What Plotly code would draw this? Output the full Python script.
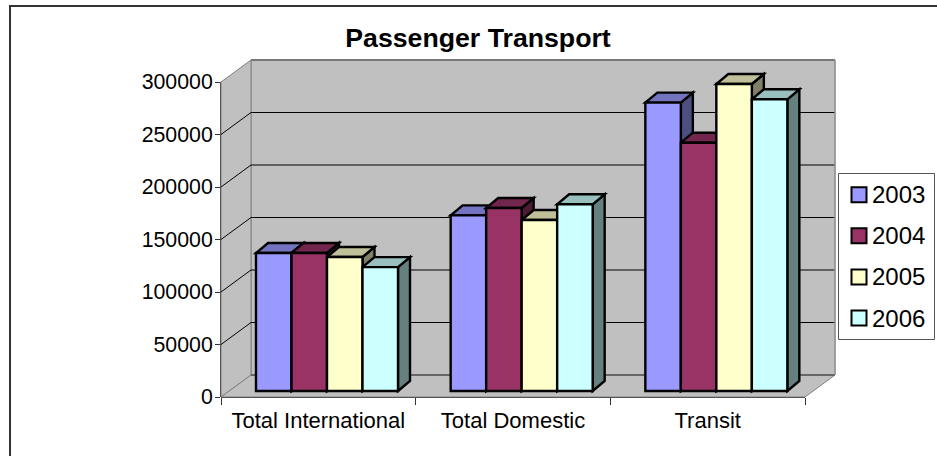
import plotly.graph_objects as go

# Passenger counts per category and year
categories = ["Total International", "Total Domestic", "Transit"]
years = ["2003", "2004", "2005", "2006"]
values_2003 = [131400, 167300, 274600]
values_2004 = [131500, 174300, 236500]
values_2005 = [127600, 162900, 292400]
values_2006 = [118000, 177800, 277800]
y_ticks = [0, 50000, 100000, 150000, 200000, 250000, 300000]

series = [values_2003, values_2004, values_2005, values_2006]
front_colors = ["#9999FF", "#993366", "#FFFFCC", "#CCFFFF"]
top_colors = ["#7373BF", "#73264D", "#BFBF99", "#99BFBF"]
side_colors = ["#4D4D80", "#4D1A33", "#808066", "#668080"]

WIDTH, HEIGHT = 937, 456
PLOT_L, PLOT_B = 221, 397
WALL_R = 835
UNITS_PER_PX = 300000 / 315
CAT_PX = 584 / 3

# Oblique projection: wall depth and bar depth, expressed in axis units
WALL_DX, WALL_DY = 30 / CAT_PX, 22 * UNITS_PER_PX
BAR_DX, BAR_DY = 12 / CAT_PX, 10 * UNITS_PER_PX
BAR_WIDTH = 35.5 / CAT_PX
BAR_SHIFT = 8.67 / CAT_PX
BAR_BASE = 6 * UNITS_PER_PX

# The plot area runs to the page's top and right edges so nothing gets clipped
x_lo = -0.5
x_hi = x_lo + (WIDTH - PLOT_L) / CAT_PX
x_wall = x_lo + (WALL_R - PLOT_L) / CAT_PX
x_front_end = x_lo + 3
y_hi = PLOT_B * UNITS_PER_PX
y_wall_top = 300000 + WALL_DY
x_positions = list(range(len(categories)))

WALL = "#C0C0C0"
EDGE = "#808080"
AXIS = "#555555"


def poly(points, fill, line="#000000", width=2.4):
    path = "M" + " L".join(f"{x},{y}" for x, y in points) + " Z"
    return dict(type="path", path=path, xref="x", yref="y", layer="below",
                fillcolor=fill, line=dict(color=line, width=width))


def seg(x0, y0, x1, y1, color, width=1, xref="x", yref="y"):
    return dict(type="line", x0=x0, y0=y0, x1=x1, y1=y1, xref=xref, yref=yref,
                layer="below", line=dict(color=color, width=width))


shapes = []
# Back wall, side wall and floor
shapes.append(poly([(x_lo + WALL_DX, WALL_DY), (x_wall, WALL_DY), (x_wall, y_wall_top), (x_lo + WALL_DX, y_wall_top)], WALL, EDGE, 1))
shapes.append(poly([(x_lo, 0), (x_lo + WALL_DX, WALL_DY), (x_lo + WALL_DX, y_wall_top), (x_lo, 300000)], WALL, EDGE, 1))
shapes.append(poly([(x_lo, 0), (x_front_end, 0), (x_wall, WALL_DY), (x_lo + WALL_DX, WALL_DY)], WALL, EDGE, 1))

# Gridlines wrap around the side wall and the back wall
for t in y_ticks[1:-1]:
    shapes.append(seg(x_lo, t, x_lo + WALL_DX, t + WALL_DY, "#000000"))
    shapes.append(seg(x_lo + WALL_DX, t + WALL_DY, x_wall, t + WALL_DY, "#000000"))
shapes.append(seg(x_lo + WALL_DX, WALL_DY, x_wall, WALL_DY, "#666666", 2))
shapes.append(seg(x_lo + WALL_DX, y_wall_top, x_wall, y_wall_top, "#777777", 2))
shapes.append(seg(x_wall, WALL_DY, x_wall, y_wall_top, "#999999", 1.5))

# Frame edges lying on the plot boundary
shapes.append(seg(0, 0, 0, 300000 / y_hi, AXIS, 2, "x domain", "y domain"))
shapes.append(seg(0, 0, (x_front_end - x_lo) / (x_hi - x_lo), 0, AXIS, 2, "x domain", "y domain"))

# Tops and right sides of the columns; the fronts are real bars drawn above them
for j, vals in enumerate(series):
    offset = (j - 2) * BAR_WIDTH + BAR_SHIFT
    for xc, v in zip(x_positions, vals):
        x0 = xc + offset
        x1 = x0 + BAR_WIDTH
        top = BAR_BASE + v
        shapes.append(poly([(x1, BAR_BASE), (x1 + BAR_DX, BAR_BASE + BAR_DY), (x1 + BAR_DX, top + BAR_DY), (x1, top)], side_colors[j]))
        shapes.append(poly([(x0, top), (x1, top), (x1 + BAR_DX, top + BAR_DY), (x0 + BAR_DX, top + BAR_DY)], top_colors[j]))

# Page-pixel helpers for the frame and the key
px = lambda v: (v - PLOT_L) / (WIDTH - PLOT_L)
py = lambda v: (PLOT_B - v) / PLOT_B

# Chart frame: left and top edges
shapes.append(dict(type="path", xref="paper", yref="paper", layer="above",
                   path=f"M{px(10)},{py(470)} L{px(10)},{py(6)} L{px(950)},{py(6)}",
                   line=dict(color="#333333", width=2)))

# Key box with one swatch and label per year
shapes.append(dict(type="rect", xref="paper", yref="paper", layer="above",
                   x0=px(838.5), x1=px(934.5), y0=py(173.5), y1=py(339.5),
                   fillcolor="#FFFFFF", line=dict(color="#555555", width=1)))
annotations = []
for j, year in enumerate(years):
    yc = 194.7 + 41.1 * j
    shapes.append(dict(type="rect", xref="paper", yref="paper", layer="above",
                       x0=px(851.5), x1=px(866.5), y0=py(yc - 7.5), y1=py(yc + 7.5),
                       fillcolor=front_colors[j], line=dict(color="#000000", width=2)))
    annotations.append(dict(text=year, xref="paper", yref="paper", x=px(870), y=py(yc),
                            xanchor="left", yanchor="middle", showarrow=False,
                            font=dict(family="Liberation Sans", size=24, color="#000000")))

fig = go.Figure()
for j, vals in enumerate(series):
    fig.add_trace(go.Bar(
        x=x_positions, y=vals, base=BAR_BASE, name=years[j],
        width=BAR_WIDTH, offset=(j - 2) * BAR_WIDTH + BAR_SHIFT,
        marker=dict(color=front_colors[j], line=dict(color="#000000", width=2.4)),
        hoverinfo="x+y",
    ))

FONT = "Liberation Sans"
fig.update_layout(
    width=WIDTH, height=HEIGHT,
    margin=dict(l=PLOT_L, r=0, t=0, b=HEIGHT - PLOT_B, pad=0),
    autosize=False,
    barmode="overlay",
    showlegend=False,
    paper_bgcolor="#FFFFFF", plot_bgcolor="rgba(0,0,0,0)",
    font=dict(family=FONT, size=21, color="#000000"),
    title=dict(text="<b>Passenger Transport</b>", x=478 / WIDTH, xanchor="center",
               y=1 - 38 / HEIGHT, yanchor="middle", font=dict(family=FONT, size=26.7, color="#000000")),
    xaxis=dict(range=[x_lo, x_hi], tickvals=x_positions, ticktext=categories,
               showgrid=False, zeroline=False, showline=False, ticks="",
               ticklabelstandoff=8, tickfont=dict(family=FONT, size=22),
               minor=dict(tickvals=[x_lo + k for k in range(4)], ticks="outside",
                          ticklen=7, tickwidth=1, tickcolor="#333333", showgrid=False)),
    yaxis=dict(range=[0, y_hi], tickvals=y_ticks, showgrid=False, zeroline=False,
               showline=False, ticks="outside", ticklen=5, tickwidth=1, tickcolor="#333333",
               ticklabelstandoff=-2, tickfont=dict(family=FONT, size=21.3), tickformat="d"),
    shapes=shapes,
    annotations=annotations,
)

fig.write_html("out.html", config=dict(displayModeBar=False))
